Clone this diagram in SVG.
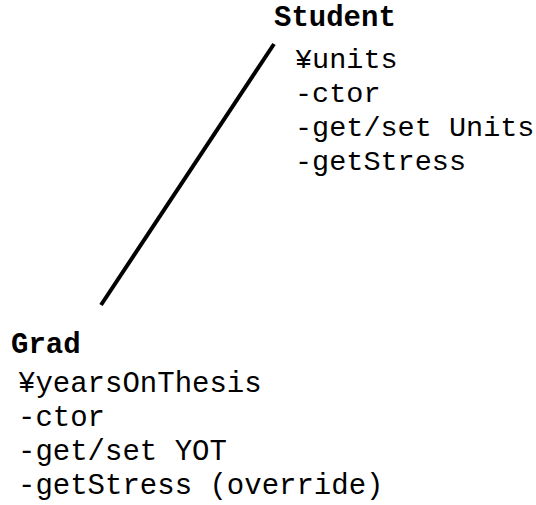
<svg xmlns="http://www.w3.org/2000/svg" width="536" height="505" viewBox="0 0 536 505">
<style>
text{font-family:"Liberation Mono","Courier New",monospace;fill:#000;font-size:29px}
.t{font-weight:bold}
.s{font-size:28.5px}
.c{stroke:#000;stroke-width:4;fill:none}
</style>
<rect width="536" height="505" fill="#fff"/>
<g id="connectors"><line class="c" x1="274" y1="44" x2="101" y2="305"/></g>
<g id="Student">
<text class="t" x="274" y="26">Student</text>
<text class="s" x="295" y="68">¥units</text>
<text class="s" x="295" y="102">-ctor</text>
<text class="s" x="295" y="136">-get/set Units</text>
<text class="s" x="295" y="170">-getStress</text>
</g>
<g id="Grad">
<text class="t" x="11" y="353">Grad</text>
<text x="18" y="392">¥yearsOnThesis</text>
<text x="18" y="426">-ctor</text>
<text x="18" y="460">-get/set YOT</text>
<text x="18" y="494">-getStress (override)</text>
</g>
</svg>
